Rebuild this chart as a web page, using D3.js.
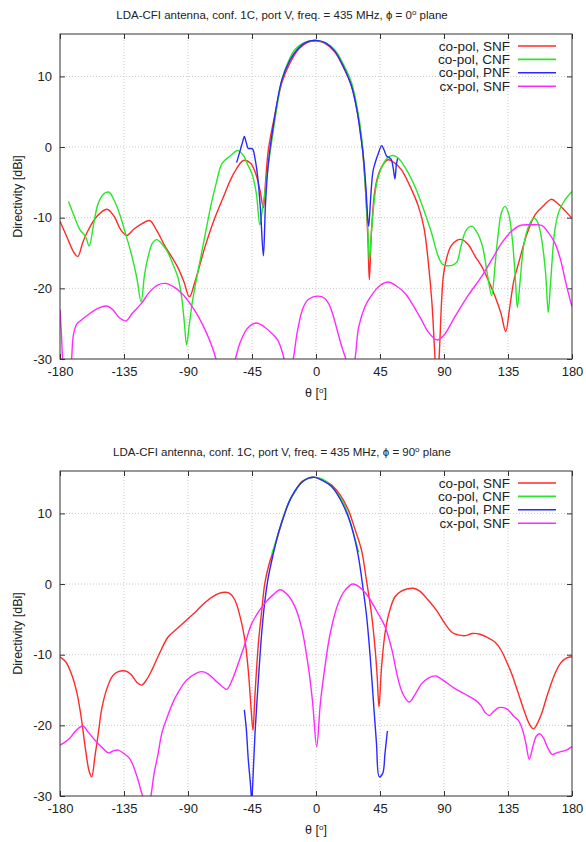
<!DOCTYPE html>
<html>
<head>
<meta charset="utf-8">
<script src="https://cdnjs.cloudflare.com/ajax/libs/d3/7.8.5/d3.min.js"></script>
<style>
  body { margin: 0; background: #fff; }
  svg { font-family: "Liberation Sans", Arial, Helvetica, sans-serif; }
  .grid line { stroke: #c8c8c8; stroke-dasharray: 1,2; }
  .tick text { fill: #222; }
</style>
</head>
<body>
<svg id="chart" width="586" height="842"></svg>
<script>
/* ---- data: [theta (deg), directivity (dBi)] ---- */

// phi = 0 deg plane
var p0_coSNF = [[-180,-10.5],[-175,-12.8],[-170,-15],[-167.5,-15.5],[-164,-13.5],[-160,-11.7],[-154,-9.8],[-147,-8.8],[-142,-9.8],[-137,-11.8],[-133,-12.5],[-128,-11.6],[-122,-10.8],[-117,-10.4],[-112,-11.8],[-106,-14.1],[-101,-15.7],[-97,-17.1],[-93,-19],[-89,-21.2],[-85,-19],[-78,-14.1],[-72,-10.5],[-66,-7.5],[-58,-3.8],[-51,-1.9],[-46,-2.3],[-42.5,-3.7],[-39.5,-6],[-37,-8.6],[-35.5,-5],[-33.5,-0.4],[-29,4.5],[-24,9.1],[-18,12],[-12,13.9],[-6,14.8],[0,15],[6,14.7],[13,13.5],[19,11.4],[25,8.6],[29,5],[32,1],[34.5,-5],[36.5,-13],[37.5,-18.8],[39,-12],[41.5,-6],[45,-3.3],[50.5,-1.8],[55,-2.2],[60,-3.2],[66,-5.5],[72,-8.4],[76,-11.5],[79,-16.4],[81.5,-22],[83.7,-30],[85,-34],[86.5,-30],[89.5,-18.3],[92,-15.6],[95,-14],[99,-13.2],[102.5,-13.1],[107,-13.8],[112,-15.5],[116.5,-16.9],[121,-18.8],[126,-21.2],[130,-23.5],[133.4,-26.1],[136,-23],[139,-19],[142.5,-16.4],[148,-12.5],[154,-9.6],[160,-8.3],[165.5,-7.4],[170,-8],[175,-9],[180,-10.1]];

var p0_coCNF = [[-174,-7.7],[-170,-9.8],[-166,-11.7],[-162,-12.7],[-159.5,-14],[-156,-10.5],[-153,-7.9],[-149,-6.6],[-145.5,-6.4],[-142,-7.5],[-138,-9.5],[-134,-12.2],[-130,-15],[-126,-18.5],[-123,-21.9],[-120.5,-18],[-118,-15.5],[-115,-13.6],[-112,-13.1],[-108,-13.8],[-104,-15],[-101,-16.4],[-97,-18.5],[-94.5,-21.2],[-92.5,-25],[-91,-28],[-89,-25],[-87,-22],[-85,-19.7],[-79,-13.5],[-73.5,-7.9],[-70,-5],[-66,-2.3],[-60,-1.2],[-55,-0.5],[-51,-1.2],[-48,-2.5],[-45,-3.8],[-42,-6.5],[-39.5,-11],[-37.5,-8.5],[-36,-6.5],[-33.5,-2.5],[-31,1],[-28,5],[-24,9.5],[-19,12.3],[-14.8,13.8],[-8,14.8],[-1,15.1],[6,14.8],[13,13.8],[19,11.8],[25,9.1],[29,5.5],[32,1.5],[34.5,-5],[36.5,-12],[37.5,-16],[39,-12],[41,-7.5],[43,-4.8],[47,-2.5],[51,-1.4],[54.5,-1.2],[58,-1.6],[62,-2.7],[65,-3.7],[70,-5.8],[76.5,-9.3],[81,-12],[86,-15.5],[89,-16.6],[92,-16.8],[96,-16.7],[99,-16.3],[102,-14],[105.5,-11.8],[109.5,-11.2],[113,-12],[117,-14],[120.5,-18],[123.5,-21],[126,-16.5],[128,-12.5],[130.5,-9.2],[133,-8.4],[135.5,-9.5],[138,-13],[140,-18],[141.6,-22.7],[143.5,-19],[146,-14],[149,-11.5],[152,-10.3],[154,-10.1],[156.5,-11],[159,-13.5],[161.5,-18],[163.3,-23.4],[165,-19],[168,-11.7],[171,-9],[175,-7.5],[180,-6.3]];

var p0_coPNF = [[-55.8,-2.2],[-53.2,-0.4],[-51.5,0.8],[-50.4,1.5],[-49,0.6],[-47.6,-0.2],[-46,-0.2],[-44.5,-0.3],[-43,-1.5],[-41,-4.2],[-39,-9],[-37,-15.4],[-35.5,-8],[-33.5,-2.3],[-30,3],[-24,9.5],[-18,12.4],[-12.4,14],[-6,14.9],[0.5,15.1],[7,14.7],[13.4,13.5],[19,11.5],[25,8.6],[29,5],[31.5,1.5],[33.3,-1.3],[35,-5.5],[37,-11.2],[38.5,-7],[40,-3.5],[41.5,-2.3],[44,-0.8],[46.2,0.2],[48,-0.5],[49.7,-1.3],[51.5,-1.5],[53,-1.8],[54.3,-3],[55.5,-4.5],[56.5,-2.5],[57.4,-1.6]];

var p0_cxSNF = [[-180,-23],[-179,-26.5],[-178,-30.5],[-176,-33.5],[-173.5,-33],[-172,-30.5],[-170.5,-26.5],[-168,-25],[-165,-24.5],[-160,-23.7],[-153,-22.8],[-147,-22.5],[-143,-23],[-138,-24.2],[-133.6,-24.6],[-129,-23.5],[-122.6,-22.1],[-117,-20.5],[-111,-19.5],[-106,-19.3],[-100,-19.8],[-94.5,-20.7],[-88,-22.3],[-82.7,-24],[-77,-26.3],[-73,-28.3],[-70,-30.2],[-66,-33],[-61,-33],[-57,-30.2],[-53,-27.5],[-48,-25.6],[-42,-24.9],[-36,-25.5],[-30,-26.6],[-27,-27.3],[-24.5,-28.5],[-22,-30.3],[-19,-32.5],[-16,-30],[-13,-26],[-9,-22.7],[-5,-21.5],[1.5,-21.1],[6,-21.4],[9,-22.2],[12,-23.8],[15,-26],[18.5,-28.5],[21.5,-30.3],[24.5,-32.5],[27.4,-30],[30,-25.5],[34.4,-22.6],[39,-21],[45,-19.6],[50.9,-19.1],[56,-19.6],[62.6,-20.7],[68,-22.3],[74.3,-24.5],[79,-26.2],[85,-27.3],[90,-26.6],[97.7,-24],[107,-21],[116.5,-18.3],[124,-15.8],[130.5,-13.6],[137,-12],[143.4,-11.1],[151,-11],[158.7,-11.1],[163,-12],[168,-13.6],[172,-16],[176,-19.5],[180,-22.6]];

// phi = 90 deg plane
var p90_coSNF = [[-180,-10.3],[-176,-11],[-172,-12.7],[-168,-15.5],[-165,-19],[-162,-23.5],[-159.5,-26.5],[-157.7,-27.3],[-155.5,-24.5],[-153,-21],[-150.5,-17.5],[-147,-14.8],[-143,-13],[-139,-12.4],[-134,-12.3],[-130,-12.8],[-126,-13.9],[-122.6,-14.3],[-119,-13.5],[-115,-12],[-110,-9.8],[-104,-7.5],[-97,-6.2],[-90,-4.9],[-84,-3.8],[-78,-2.6],[-72,-1.7],[-66,-1.2],[-61,-1.3],[-57,-2.3],[-53.5,-4.5],[-50,-7.9],[-47.5,-12.5],[-45.5,-18],[-44.3,-20.7],[-43,-16],[-40.5,-8.4],[-38,-3.5],[-36,0.1],[-33,2.8],[-29,5.3],[-24,8.7],[-19.5,11.4],[-15,13],[-10,14.5],[-5,15],[-0.7,15.1],[5,14.7],[11,14],[17,12.6],[22.7,10.5],[27,8],[32,4.8],[35.5,0.5],[39,-4.2],[41.5,-9],[43,-13],[44.3,-17.4],[46,-12],[48.5,-7],[51.5,-4],[55.5,-1.8],[60,-1],[64,-0.7],[68.4,-0.6],[73,-1],[79,-2.3],[85,-3.8],[90.7,-5.6],[96,-6.9],[100,-7.2],[105,-7.3],[110,-7],[115.3,-7.1],[120,-7.5],[125.8,-8.2],[130,-9.3],[134,-11],[137.6,-12.7],[142,-15.3],[147,-18.3],[150,-19.8],[152.9,-20.5],[155.5,-19.8],[158.7,-18.3],[163,-15.5],[168,-12.7],[172,-11.2],[176,-10.5],[180,-10.3]];

var p90_coCNF = [[-31,4.3],[-28,6.2],[-24,8.8],[-19,11.6],[-15,13],[-10,14.4],[-5,15],[0,15.1],[5,14.8],[10,14],[16,12.6],[20,11.2],[24,8.9],[27,6.7],[30,4.5]];

var p90_coPNF = [[-50.4,-17.8],[-49,-20.5],[-47.6,-24.9],[-46.2,-28],[-45.2,-30.5],[-44,-26],[-42.9,-21.2],[-40.5,-13.5],[-38.2,-7],[-36,-2.5],[-33.5,1],[-30,4.3],[-26.5,7.2],[-22,10],[-17.1,12.4],[-11,14.2],[-5.4,15],[-0.7,15.1],[5,14.6],[11,13.8],[17,12],[22.7,9.5],[26.5,7],[29.8,3.9],[33,-0.5],[35.6,-4.6],[38,-10],[40.3,-16.4],[42.5,-22.5],[44.5,-27.3],[46.9,-26.8],[48.5,-24],[50.2,-20.8]];

var p90_cxSNF = [[-180,-22.8],[-176,-22.3],[-173,-21.8],[-169,-20.8],[-164,-20.1],[-160,-21],[-155.4,-22.1],[-150,-23.2],[-146,-23.9],[-142.5,-23.6],[-139,-23.5],[-135,-24],[-131,-24.7],[-128,-26],[-125,-27.8],[-123,-29.3],[-121.4,-30.3],[-119,-32],[-116.3,-30.2],[-114,-27],[-111,-24],[-108.5,-21.2],[-104,-18.5],[-100,-16.5],[-96.8,-15.3],[-91,-13.6],[-85,-12.7],[-80.4,-12.4],[-76,-12.7],[-71,-13.6],[-66,-14.5],[-62.8,-14.9],[-59,-13.6],[-54.6,-11.2],[-50,-8.5],[-45.2,-5.6],[-40,-3.8],[-35.9,-2.7],[-30,-1.5],[-25.3,-0.8],[-20,-1.5],[-14.8,-3.2],[-10,-6.3],[-5.4,-11.7],[-2.5,-16.5],[0.5,-23],[3,-17],[6.3,-11.7],[10,-7],[15.7,-2.7],[20,-1],[25.8,0],[31,-0.5],[36.8,-1.8],[42,-3.6],[48.5,-6],[53,-9],[57.9,-13.6],[61,-15.5],[65.5,-16.7],[70,-15.5],[74.3,-14.1],[79,-13.3],[84,-13],[90,-13.7],[97.7,-14.8],[105,-15.6],[111.8,-16.4],[116,-17.2],[119,-18.2],[122,-18.6],[125,-18],[128.5,-17.5],[131.7,-17.5],[135,-17.8],[139,-18.7],[142.3,-19.3],[145,-20.5],[147.5,-22.5],[150,-24.8],[152.5,-23],[155,-21.5],[157.5,-21.2],[160,-21.8],[163,-23.2],[166,-24.1],[169,-23.9],[172.4,-23.7],[176,-23.5],[180,-23]];

var seriesNames = ["co-pol, SNF", "co-pol, CNF", "co-pol, PNF", "cx-pol, SNF"];
var seriesColors = ["#ff2a2a", "#2ae62a", "#2a2aff", "#ff2aff"];
var xTicks = [-180, -135, -90, -45, 0, 45, 90, 135, 180];
var yTicks = [-30, -20, -10, 0, 10];
var panelPhi = ["0", "90"];

/* ---- layout ---- */
var svg = d3.select("#chart");
var left = 60, right = 572, plotH = 325;
var panelTops = [34, 471];

var x = d3.scaleLinear().domain([-180, 180]).range([left, right]);

// plain hyphen minus like gnuplot, not the unicode minus of d3.format
function plainNum(d) { return String(d); }

function drawPanel(idx, allSeries) {
    var top = panelTops[idx];
    var y = d3.scaleLinear().domain([-30, 16]).range([top + plotH, top]);
    var g = svg.append("g");

    // title
    var title = g.append("text")
        .attr("x", 282).attr("y", top - 15)
        .attr("text-anchor", "middle")
        .style("font-size", "11.5px").style("fill", "#222")
        .text("LDA-CFI antenna, conf. 1C, port V, freq. = 435 MHz, \u03d5 = " + panelPhi[idx]);
    title.append("tspan").attr("dy", -4).style("font-size", "8px").text("o");
    title.append("tspan").attr("dy", 4).text(" plane");

    // grid (dotted)
    var grid = g.append("g").attr("class", "grid");
    grid.selectAll(".gx").data(xTicks.slice(1, -1)).enter().append("line")
        .attr("x1", d => x(d)).attr("x2", d => x(d))
        .attr("y1", top).attr("y2", top + plotH);
    grid.selectAll(".gy").data(yTicks.slice(1)).enter().append("line")
        .attr("x1", left).attr("x2", right)
        .attr("y1", d => y(d)).attr("y2", d => y(d));

    // axes: ticks inside on all four sides
    var tickFont = "13px";
    g.append("g").attr("transform", "translate(0," + (top + plotH) + ")")
        .call(d3.axisBottom(x).tickValues(xTicks).tickFormat(plainNum).tickSizeInner(-5).tickSizeOuter(0).tickPadding(8))
        .call(a => a.select(".domain").remove())
        .call(a => a.selectAll("text").style("font-size", tickFont).style("font-family", "inherit"));
    g.append("g").attr("transform", "translate(0," + top + ")")
        .call(d3.axisTop(x).tickValues(xTicks).tickSizeInner(-5).tickSizeOuter(0).tickFormat(""))
        .call(a => a.select(".domain").remove());
    g.append("g").attr("transform", "translate(" + left + ",0)")
        .call(d3.axisLeft(y).tickValues(yTicks).tickFormat(plainNum).tickSizeInner(-5).tickSizeOuter(0).tickPadding(8))
        .call(a => a.select(".domain").remove())
        .call(a => a.selectAll("text").style("font-size", tickFont).style("font-family", "inherit"));
    g.append("g").attr("transform", "translate(" + right + ",0)")
        .call(d3.axisRight(y).tickValues(yTicks).tickSizeInner(-5).tickSizeOuter(0).tickFormat(""))
        .call(a => a.select(".domain").remove());
    g.selectAll(".tick line").style("stroke", "#333");

    // clip for curves
    var clipId = "clip" + idx;
    g.append("clipPath").attr("id", clipId).append("rect")
        .attr("x", left).attr("y", top).attr("width", right - left).attr("height", plotH);

    var line = d3.line()
        .x(d => x(d[0])).y(d => y(d[1]))
        .curve(d3.curveCatmullRom.alpha(0.5));

    var curves = g.append("g").attr("clip-path", "url(#" + clipId + ")");
    allSeries.forEach(function(s, i) {
        curves.append("path")
            .datum(s)
            .attr("d", line)
            .attr("fill", "none")
            .attr("stroke", seriesColors[i])
            .attr("stroke-width", 1.4)
            .attr("stroke-linejoin", "round");
    });

    // frame
    g.append("rect")
        .attr("x", left).attr("y", top).attr("width", right - left).attr("height", plotH)
        .attr("fill", "none").attr("stroke", "#333").attr("stroke-width", 1);

    // legend
    var leg = g.append("g");
    seriesNames.forEach(function(name, i) {
        var ly = top + 12 + i * 13.4;
        leg.append("text")
            .attr("x", 510).attr("y", ly + 4.5)
            .attr("text-anchor", "end")
            .style("font-size", "13.5px").style("fill", "#222")
            .text(name);
        leg.append("line")
            .attr("x1", 518).attr("x2", 556).attr("y1", ly).attr("y2", ly)
            .attr("stroke", seriesColors[i]).attr("stroke-width", 1.6);
    });

    // axis labels
    g.append("text")
        .attr("transform", "translate(22," + (top + plotH / 2) + ") rotate(-90)")
        .attr("text-anchor", "middle")
        .style("font-size", "12.5px").style("fill", "#222")
        .text("Directivity [dBi]");
    var xl = g.append("text")
        .attr("x", 316).attr("y", top + plotH + 38)
        .attr("text-anchor", "middle")
        .style("font-size", "12.5px").style("fill", "#222")
        .text("\u03b8 [");
    xl.append("tspan").attr("dy", -4).style("font-size", "8px").text("o");
    xl.append("tspan").attr("dy", 4).text("]");
}

drawPanel(0, [p0_coSNF, p0_coCNF, p0_coPNF, p0_cxSNF]);
drawPanel(1, [p90_coSNF, p90_coCNF, p90_coPNF, p90_cxSNF]);
</script>
</body>
</html>
